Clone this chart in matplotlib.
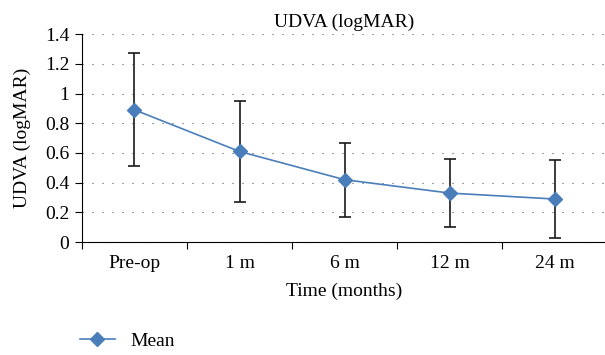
import matplotlib.pyplot as plt
import numpy as np

plt.rcParams['font.family'] = ['Liberation Serif', 'DejaVu Serif']

categories = ["Pre-op", "1 m", "6 m", "12 m", "24 m"]
mean = [0.89, 0.61, 0.42, 0.33, 0.29]
upper = [1.27, 0.95, 0.665, 0.56, 0.55]
lower = [0.51, 0.27, 0.17, 0.10, 0.03]

x = np.arange(len(categories))
err = [np.array(mean) - np.array(lower), np.array(upper) - np.array(mean)]

fig = plt.figure(figsize=(6.05, 3.55), dpi=100)
ax = fig.add_axes([0.1355, 0.318, 0.868, 0.586])

ax.errorbar(x, mean, yerr=err, fmt="none", ecolor="#1a1a1a", elinewidth=1.2,
            capsize=4, capthick=1.2, zorder=2)
ax.plot(x, mean, color="#4a7ebb", marker="D", markersize=7, linewidth=1.2,
        label="Mean", zorder=3)

ax.set_xlim(-0.5, 4.5)
ax.set_ylim(0, 1.4)
ax.set_yticks(np.arange(0, 1.41, 0.2))
ax.set_yticklabels(["0", "0.2", "0.4", "0.6", "0.8", "1", "1.2", "1.4"])
ax.yaxis.grid(True, linestyle=(0, (1, 8)), color="#555555", linewidth=0.8)

ax.set_xticks(np.arange(-0.5, 4.6, 1.0))
ax.set_xticklabels([])
ax.set_xticks(x, minor=True)
ax.set_xticklabels(categories, minor=True)
ax.tick_params(axis="x", which="minor", length=0, pad=9, labelsize=14)
ax.tick_params(axis="x", which="major", length=5, direction="out")
ax.tick_params(axis="y", length=5, direction="out", labelsize=14, pad=4)

for s in ["top", "right"]:
    ax.spines[s].set_visible(False)

ax.set_title("UDVA (logMAR)", fontsize=14, pad=5)
ax.set_xlabel("Time (months)", fontsize=14, labelpad=8)
ax.set_ylabel("UDVA (logMAR)", fontsize=14, labelpad=10)

fig.legend(loc="lower left", bbox_to_anchor=(0.103, -0.035), frameon=False,
           fontsize=14, handlelength=1.8, handletextpad=0.8)

fig.savefig("out.png", dpi=100)
